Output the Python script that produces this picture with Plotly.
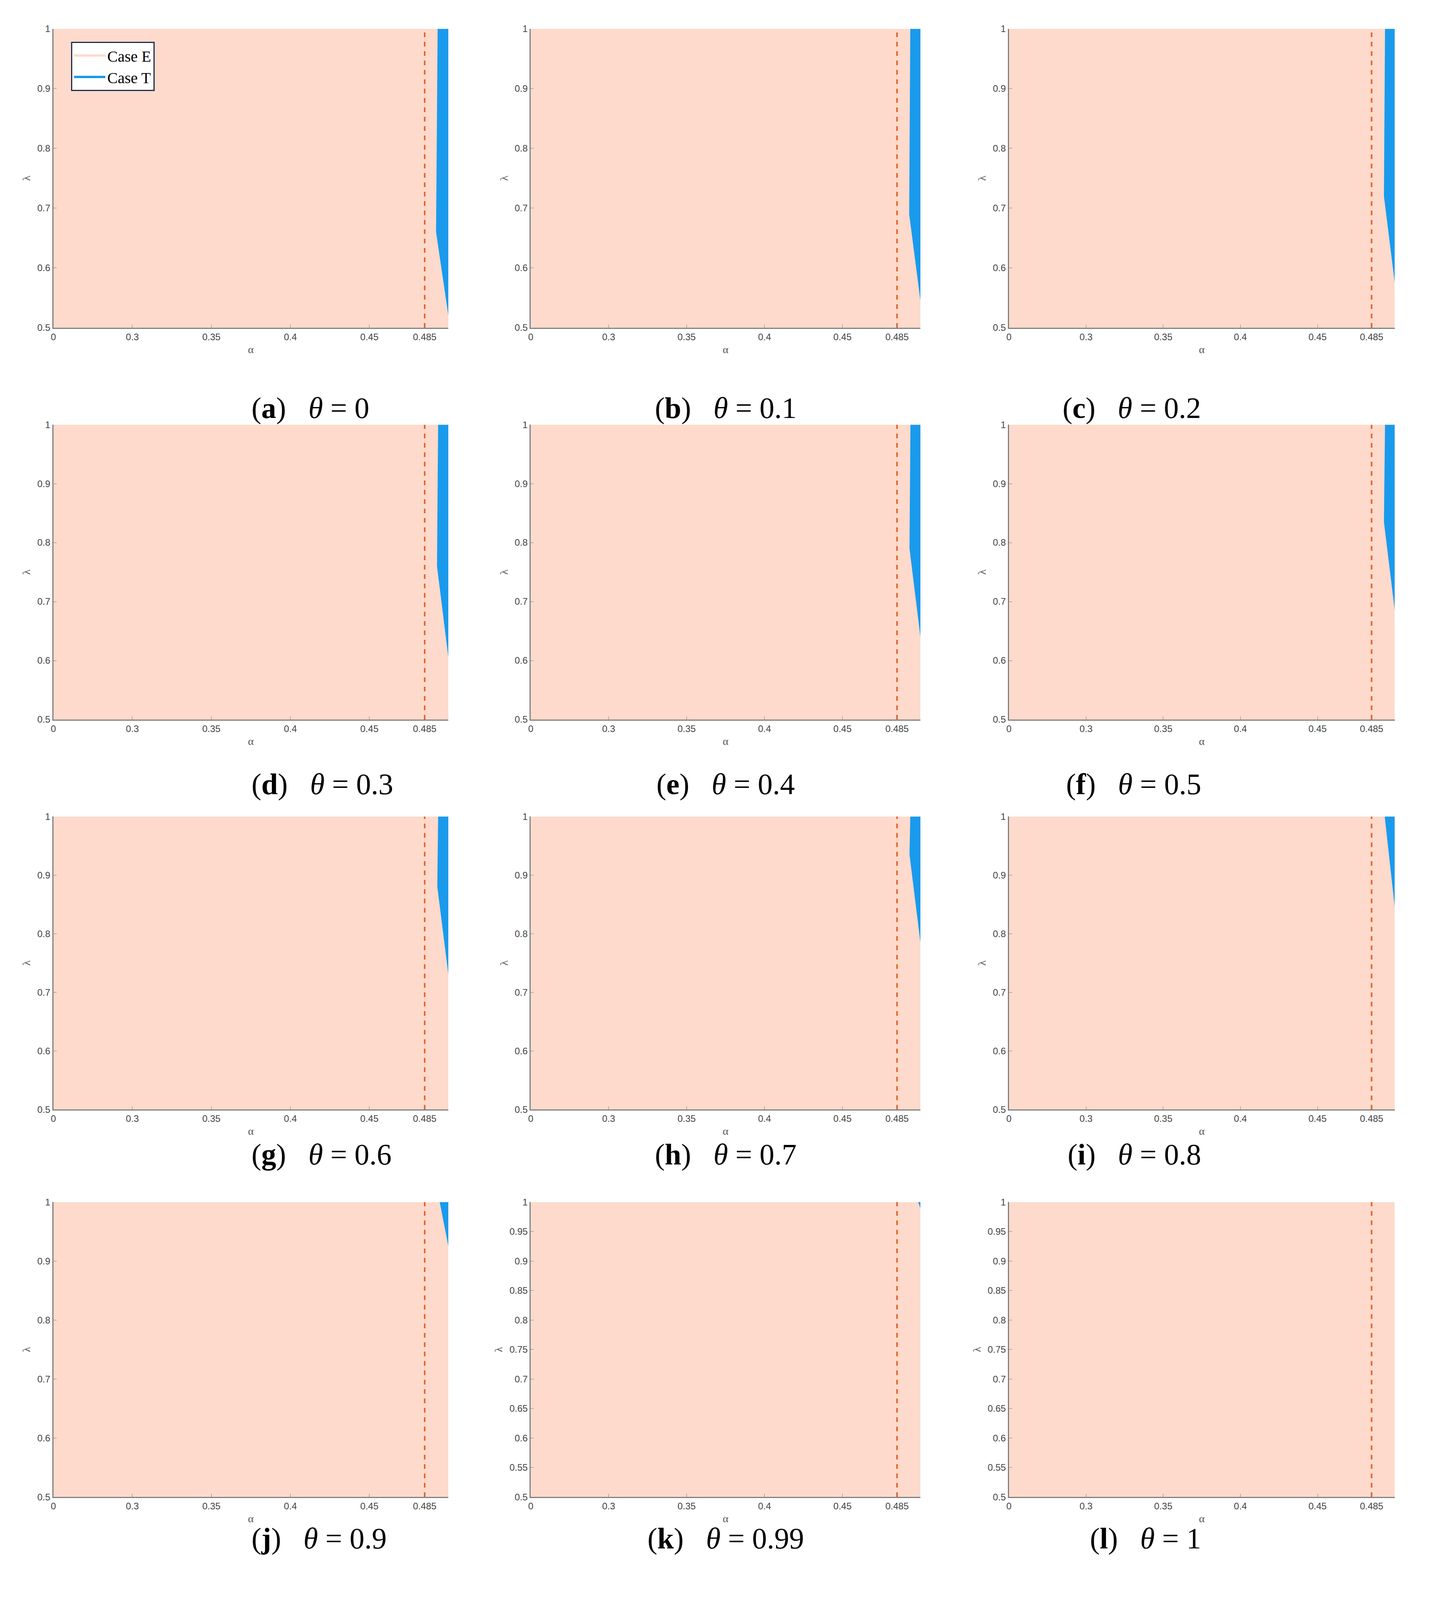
import plotly.graph_objects as go

W, H = 3600, 4060
SX, SY = W / 3662, H / 4290
thetas = ["0", "0.1", "0.2", "0.3", "0.4", "0.5", "0.6", "0.7", "0.8", "0.9", "0.99", "1"]
letters = list("abcdefghijkl")
# Case T region boundary per panel (None = no region)
alpha_top    = [0.4932, 0.4935, 0.4937, 0.4935, 0.4936, 0.4937, 0.4935, 0.4935, 0.4935, 0.4945, 0.4985, None]
alpha_corner = [0.4922, 0.4928, 0.4930, 0.4928, 0.4930, 0.4930, 0.4930, 0.4930, 0.4935, 0.4945, 0.4985, None]
lam_corner   = [0.66, 0.69, 0.72, 0.76, 0.79, 0.835, 0.88, 0.935, 1.0, 1.0, 1.0, None]
lam_right    = [0.52, 0.545, 0.575, 0.605, 0.64, 0.685, 0.73, 0.785, 0.845, 0.925, 0.99, None]
alpha_range = [0.25, 0.5]
lam_range = [0.5, 1.0]
alpha_star = 0.485
xtick_vals = [0.25, 0.3, 0.35, 0.4, 0.45, 0.485]
xtick_text = ["0", "0.3", "0.35", "0.4", "0.45", "0.485"]
ytick_main = [0.5, 0.6, 0.7, 0.8, 0.9, 1.0]
ytick_fine = [0.5, 0.55, 0.6, 0.65, 0.7, 0.75, 0.8, 0.85, 0.9, 0.95, 1.0]

PINK, BLUE, ORANGE = "#FDDACB", "#1A9AEC", "#E0632A"
col_x = [(124, 1155), (1370, 2387), (2618, 3625)]
row_y = [(55, 869), (1133, 1936), (2200, 2998), (3250, 4053)]
cap_y = [1040, 2112, 3168, 4213]

fig = go.Figure()
for i in range(12):
    r, c = divmod(i, 3)
    n = "" if i == 0 else str(i + 1)
    xa, ya = "x" + n, "y" + n
    fig.add_trace(go.Scatter(x=[alpha_range[0], alpha_range[1], alpha_range[1], alpha_range[0], alpha_range[0]],
                             y=[lam_range[0], lam_range[0], lam_range[1], lam_range[1], lam_range[0]],
                             fill="toself", fillcolor=PINK, mode="none",
                             name="Case E", showlegend=(i == 0), xaxis=xa, yaxis=ya, hoverinfo="skip"))
    if alpha_top[i] is not None:
        fig.add_trace(go.Scatter(x=[alpha_top[i], alpha_range[1], alpha_range[1], alpha_corner[i], alpha_top[i]],
                                 y=[lam_range[1], lam_range[1], lam_right[i], lam_corner[i], lam_range[1]],
                                 fill="toself", fillcolor=BLUE, mode="none",
                                 name="Case T", showlegend=(i == 0), xaxis=xa, yaxis=ya))
    fig.add_trace(go.Scatter(x=[alpha_star, alpha_star], y=lam_range, mode="lines",
                             line=dict(color=ORANGE, width=4, dash="dash"), showlegend=False, xaxis=xa, yaxis=ya))
    x0, x1 = col_x[c]
    y0, y1 = row_y[r]
    common = dict(showline=True, linecolor="#808080", linewidth=3, ticks="inside", ticklen=8, tickcolor="#808080",
                  showgrid=False, zeroline=False, tickfont=dict(family="Liberation Sans", size=24, color="#444"),
                  fixedrange=True)
    fig.layout["xaxis" + n] = dict(domain=[x0 / 3662, x1 / 3662], range=alpha_range, anchor=ya,
                                   tickvals=xtick_vals, ticktext=xtick_text,
                                   title=dict(text="α", font=dict(family="Liberation Serif", size=28, color="#555"), standoff=10),
                                   **common)
    yt = ytick_fine if i >= 10 else ytick_main
    fig.layout["yaxis" + n] = dict(domain=[1 - y1 / 4290, 1 - y0 / 4290], range=lam_range, anchor=xa,
                                   tickvals=yt, ticktext=[f"{v:g}" for v in yt],
                                   title=dict(text="λ", font=dict(family="Liberation Serif", size=28, color="#555"), standoff=10),
                                   **common)
    fig.add_annotation(x=(x0 + x1) / 2 / 3662, y=1 - cap_y[r] / 4290, xref="paper", yref="paper", showarrow=False,
                       text=f"(<b>{letters[i]}</b>)   <i>θ</i> = {thetas[i]}",
                       font=dict(family="Liberation Serif", size=76, color="black"))

fig.update_layout(width=W, height=H, margin=dict(l=0, r=0, t=0, b=0), paper_bgcolor="white",
                  plot_bgcolor="white",
                  legend=dict(x=170 / 3662, y=1 - 90 / 4290, xanchor="left", yanchor="top", bgcolor="white",
                              bordercolor="#1F2A4A", borderwidth=3, tracegroupgap=10,
                              font=dict(family="Liberation Serif", size=40, color="black"),
                              itemwidth=80))
fig.write_html("out.html")
